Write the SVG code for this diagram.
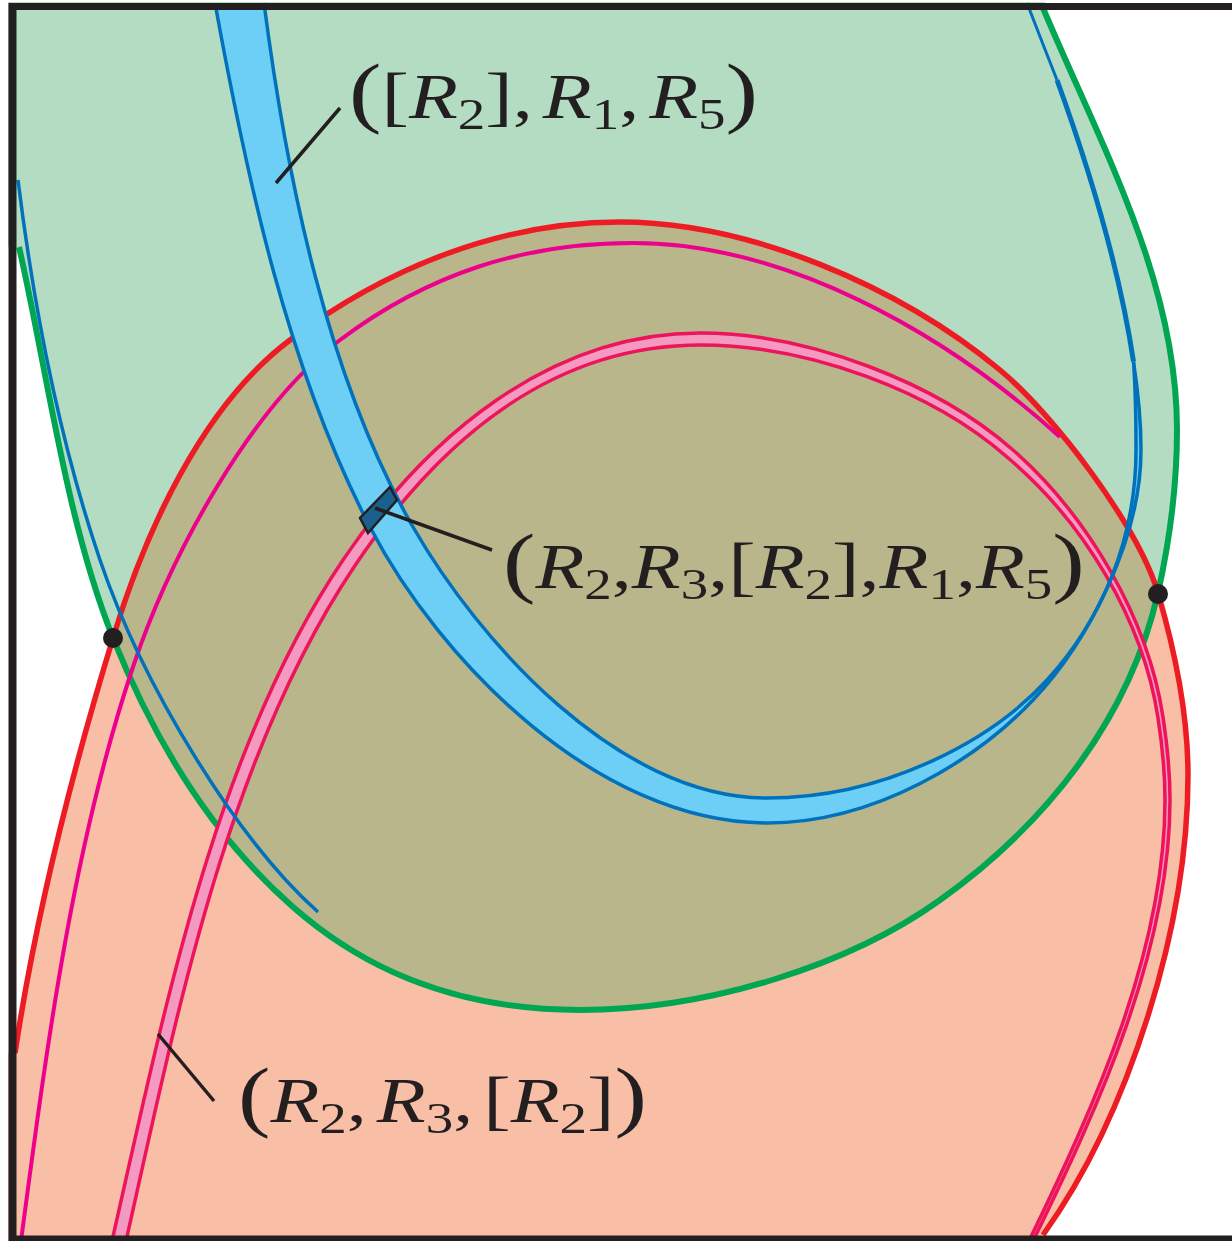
<svg xmlns="http://www.w3.org/2000/svg" width="1232" height="1241" viewBox="0 0 1232 1241">
<style>
.lbl{font-family:"Liberation Serif","Times New Roman",serif;fill:#231f20;font-size:64px}
.it{font-style:italic}
.sub{font-size:44px}
.par{font-size:78px}
.brk{font-size:66px}
.lead{stroke:#231f20;stroke-width:3.5;fill:none}
.blueln{stroke:#0072bc;stroke-width:3.5;fill:none}
.pinkln{stroke:#ed145b;stroke-width:3.5;fill:none}
.dot{fill:#231f20}
</style>
<defs>
<path id="redEdge" d="M15,1053 C36,914 72,772 113,638 C145,532 202,406 290,340 C386,268 500,222 620,222 C750,222 900,287 1000,370 C1054,415 1138,526 1158,593 C1175,651 1188,715 1188,775 C1188,925 1130,1113 1043,1235"/>
<path id="greenEdge" d="M19,247 C48,374 65,517 113,638 C154,740 210,834 293,907 C360,966 450,1010 580,1010 C710,1010 851,964 940,900 C1045,825 1129,720 1158,593 C1170,539 1177,485 1177,430 C1177,280 1101,146 1043,8"/>
<path id="greenRegion" d="M19,247 C48,374 65,517 113,638 C154,740 210,834 293,907 C360,966 450,1010 580,1010 C710,1010 851,964 940,900 C1045,825 1129,720 1158,593 C1170,539 1177,485 1177,430 C1177,280 1101,146 1043,8 L1045,2 L8,2 L8,247 Z"/>
<clipPath id="redClip"><path d="M15,1053 C36,914 72,772 113,638 C145,532 202,406 290,340 C386,268 500,222 620,222 C750,222 900,287 1000,370 C1054,415 1138,526 1158,593 C1175,651 1188,715 1188,775 C1188,925 1130,1113 1043,1235 L1040,1241 L8,1241 L8,1053 Z"/></clipPath>
</defs>

<g id="region-red">
<path fill="#f8bea6" d="M15,1053 C36,914 72,772 113,638 C145,532 202,406 290,340 C386,268 500,222 620,222 C750,222 900,287 1000,370 C1054,415 1138,526 1158,593 C1175,651 1188,715 1188,775 C1188,925 1130,1113 1043,1235 L1040,1241 L8,1241 L8,1053 Z"/>
</g>
<g id="region-green">
<use href="#greenRegion" fill="#b3dcc3"/>
</g>
<g id="region-overlap" clip-path="url(#redClip)">
<use href="#greenRegion" fill="#b8b68a"/>
</g>

<g id="curve-green">
<use href="#greenEdge" fill="none" stroke="#00a651" stroke-width="6"/>
</g>
<g id="curve-red">
<use href="#redEdge" fill="none" stroke="#ed1c24" stroke-width="5.5"/>
</g>
<g id="curve-magenta">
<path fill="none" stroke="#ec008c" stroke-width="4" d="M21,1241 C46,1053 72,848 133,667 C171,553 252,406 340,340 C428,274 523,243 633,243 C783,243 942,330 1060,437"/>
</g>

<g id="band-pink">
<path fill="#f49ac1" fill-rule="evenodd" d="M112,1241 C163,1017 214,751 343,560 C427,436 550,333 700,333 C810,333 938,384 1013,450 C1088,516 1148,618 1163,717 C1167.5,746.7 1170,770 1170,800 C1170,950 1099,1106 1033,1241 Z M126,1241 C176,1019 226,758 354,567 C437,443 550,345 701,345 C810,345 933,392 1007,457 C1083,521 1143,619 1158,718 C1162.5,747 1165,770 1165,800 C1165,950 1095,1105 1029,1241 Z"/>
<path class="pinkln" d="M112,1241 C163,1017 214,751 343,560 C427,436 550,333 700,333 C810,333 938,384 1013,450 C1088,516 1148,618 1163,717 C1167.5,746.7 1170,770 1170,800 C1170,950 1099,1106 1033,1241"/>
<path class="pinkln" d="M126,1241 C176,1019 226,758 354,567 C437,443 550,345 701,345 C810,345 933,392 1007,457 C1083,521 1143,619 1158,718 C1162.5,747 1165,770 1165,800 C1165,950 1095,1105 1029,1241"/>
</g>

<g id="band-blue">
<path fill="#6dcff6" fill-rule="evenodd" d="M215,3 C247,179 287,367 370,527 C439,660 597,823 767,823 C877,823 978,758 1033,700 C1088,642 1141,540 1141,450 C1141,422.5 1138.3,392.7 1133.5,361.7 L1133.5,3 Z M264,3 C287,181 328,379 413,527 C478,640 617,798 767,798 C887,798 993,739 1047,680 C1101,621 1136,540 1136,450 C1136,420 1135.5,390 1133.5,361.7 L1133.5,3 Z"/>
<path class="blueln" d="M215,3 C247,179 287,367 370,527 C439,660 597,823 767,823 C877,823 978,758 1033,700 C1088,642 1141,540 1141,450 C1141,422.5 1138.3,392.7 1133.5,361.7"/>
<path class="blueln" d="M264,3 C287,181 328,379 413,527 C478,640 617,798 767,798 C887,798 993,739 1047,680 C1101,621 1136,540 1136,450 C1136,420 1135.5,390 1133.5,361.7"/>
<path fill="none" stroke="#0072bc" stroke-width="5" d="M1133.5,361.7 C1119.6,268.6 1087.75,164.75 1057,80"/>
<path fill="none" stroke="#0072bc" stroke-width="3" d="M1057,80 Q1042,42 1027,3"/>
</g>
<g id="curve-blue">
<path class="blueln" d="M18,180 C34,309 58,436 100,560 C142,684 236,839 318,912"/>
</g>

<g id="cell-intersection">
<path fill="#1b5f8c" stroke="#231f20" stroke-width="2.5" d="M390,487 L397,500 L368,533 L360,518 Z"/>
</g>

<g id="points">
<circle class="dot" cx="113" cy="638" r="10"/>
<circle class="dot" cx="1158" cy="594" r="10"/>
</g>

<g id="connectors">
<line class="lead" x1="276" y1="183" x2="340" y2="108"/>
<line class="lead" x1="375" y1="508" x2="492" y2="550"/>
<line class="lead" x1="158" y1="1034" x2="214" y2="1101"/>
</g>

<g id="label-top">
<text class="lbl" transform="translate(349,118) scale(1.25,1)"><tspan class="par">(</tspan><tspan class="brk">[</tspan><tspan class="it">R</tspan><tspan class="sub" dy="11">2</tspan><tspan class="brk" dy="-11">]</tspan>,<tspan class="it" dx="8">R</tspan><tspan class="sub" dy="11">1</tspan><tspan dy="-11">,</tspan><tspan class="it" dx="8">R</tspan><tspan class="sub" dy="11">5</tspan><tspan class="par" dy="-11">)</tspan></text>
</g>
<g id="label-middle">
<text class="lbl" transform="translate(503,588) scale(1.25,1)"><tspan class="par">(</tspan><tspan class="it">R</tspan><tspan class="sub" dy="11">2</tspan><tspan dy="-11">,</tspan><tspan class="it">R</tspan><tspan class="sub" dy="11">3</tspan><tspan dy="-11">,</tspan><tspan class="brk">[</tspan><tspan class="it">R</tspan><tspan class="sub" dy="11">2</tspan><tspan class="brk" dy="-11">]</tspan>,<tspan class="it">R</tspan><tspan class="sub" dy="11">1</tspan><tspan dy="-11">,</tspan><tspan class="it">R</tspan><tspan class="sub" dy="11">5</tspan><tspan class="par" dy="-11">)</tspan></text>
</g>
<g id="label-bottom">
<text class="lbl" transform="translate(238,1122) scale(1.25,1)"><tspan class="par">(</tspan><tspan class="it">R</tspan><tspan class="sub" dy="11">2</tspan><tspan dy="-11">,</tspan><tspan class="it" dx="8">R</tspan><tspan class="sub" dy="11">3</tspan><tspan dy="-11">,</tspan><tspan class="brk" dx="8">[</tspan><tspan class="it">R</tspan><tspan class="sub" dy="11">2</tspan><tspan class="brk" dy="-11">]</tspan><tspan class="par">)</tspan></text>
</g>

<g id="frame" stroke="#231f20" fill="none">
<line x1="12.5" y1="3" x2="12.5" y2="1241" stroke-width="8"/>
<line x1="9" y1="6.5" x2="1232" y2="6.5" stroke-width="7"/>
<line x1="9" y1="1238.5" x2="1232" y2="1238.5" stroke-width="6"/>
</g>
</svg>
